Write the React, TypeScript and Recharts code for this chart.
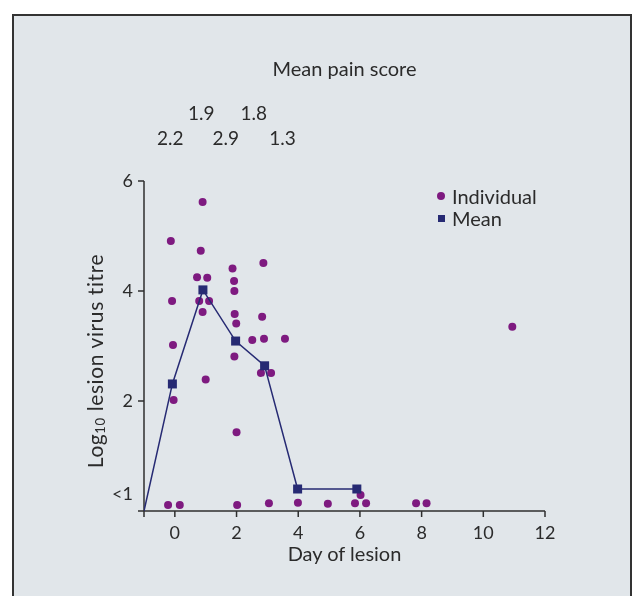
import {
  ComposedChart,
  Scatter,
  XAxis,
  YAxis,
  ReferenceDot,
} from 'recharts'

// individual lesions (day, log10 titre); values near 0 are below detection (<1)
const individualDays = [
  0.9, -0.13, 0.84, 2.87, 1.87, 0.72, 1.05, 1.92, 1.93, -0.09, 0.79, 1.11, 0.9,
  1.94, 1.99, 2.83, 2.51, 2.89, 3.57, -0.06, 1.0, 1.93, 2.79, 3.12, -0.04, 2.0,
  -0.22, 0.16, 2.02, 3.05, 3.99, 4.96, 5.84, 6.02, 6.2, 7.82, 8.16, 10.94,
]
const individualTitres = [
  5.62, 4.91, 4.73, 4.51, 4.41, 4.25, 4.24, 4.18, 4.0, 3.82, 3.82, 3.82, 3.62,
  3.58, 3.41, 3.53, 3.11, 3.13, 3.13, 3.02, 2.39, 2.81, 2.51, 2.51, 2.02, 1.43,
  0.11, 0.11, 0.11, 0.14, 0.15, 0.13, 0.14, 0.29, 0.14, 0.14, 0.14, 3.35,
]

// mean curve, starts from the axis corner
const meanDays = [-1, -0.08, 0.91, 1.97, 2.91, 3.98, 5.9]
const meanTitres = [0, 2.31, 4.02, 3.09, 2.64, 0.4, 0.4]

// mean pain score labels above the plot
const painScores = ['2.2', '1.9', '2.9', '1.8', '1.3']
const painDays = [-0.15, 0.86, 1.65, 2.56, 3.49]
const painLevels = [6.8, 7.24, 6.8, 7.24, 6.8]

const xTicks = [-1, 0, 2, 4, 6, 8, 10, 12]
const yTicks = [0, 2, 4, 6]

const individuals = individualDays.map((d, i) => ({ day: d, titre: individualTitres[i] }))
const means = meanDays.map((d, i) => ({ day: d, titre: meanTitres[i] }))

const FONT = 'Lato, "Open Sans", sans-serif'
const TEXT = '#2b2b2b'
const PURPLE = '#7e1a80'
const NAVY = '#262a73'
const AXIS = '#2e2e2e'

function YTick({ x, y, payload }: any) {
  const below = payload.value === 0
  return (
    <text
      x={x}
      y={below ? y - 17 : y}
      dy="0.35em"
      textAnchor="end"
      fill={TEXT}
      fontSize={18}
      fontFamily={FONT}
    >
      {below ? '<1' : payload.value}
    </text>
  )
}

function YLabel({ viewBox }: any) {
  const cx = viewBox.x + 10
  const cy = viewBox.y + viewBox.height / 2 + 15
  return (
    <text
      x={cx}
      y={cy}
      transform={`rotate(-90 ${cx} ${cy})`}
      textAnchor="middle"
      dominantBaseline="central"
      fill={TEXT}
      fontSize={21}
      letterSpacing={0.6}
      fontFamily={FONT}
    >
      Log
      <tspan fontSize={13} dy={6}>10</tspan>
      <tspan dy={-6}> lesion virus titre</tspan>
    </text>
  )
}

function MeanSquare({ cx, cy, payload }: any) {
  if (payload.day === -1) return <g />
  return <rect x={cx - 4.5} y={cy - 4.5} width={9} height={9} fill={NAVY} />
}

function LegendBox() {
  return (
    <div
      style={{
        position: 'absolute',
        left: 429,
        top: 177,
        fontFamily: FONT,
        fontSize: 20,
        color: TEXT,
        lineHeight: '22px',
      }}
    >
      <div style={{ display: 'flex', alignItems: 'center' }}>
        <span style={{ width: 8, height: 8, borderRadius: 4, background: PURPLE, marginRight: 7 }} />
        Individual
      </div>
      <div style={{ display: 'flex', alignItems: 'center' }}>
        <span style={{ width: 7, height: 7, background: NAVY, marginLeft: 1, marginRight: 7 }} />
        Mean
      </div>
    </div>
  )
}

export default function App() {
  return (
    <div style={{ position: 'relative', width: 619, height: 580 }}>
      {/* panel frame runs off the bottom of the page */}
      <div
        style={{
          position: 'fixed',
          left: 12,
          top: 14,
          width: 616,
          height: 600,
          border: '2px solid #333',
          background: '#e1e6ea',
        }}
      />
      <div
        style={{
          position: 'absolute',
          left: 0,
          top: 48,
          width: 673,
          textAlign: 'center',
          fontFamily: FONT,
          fontSize: 20,
          color: TEXT,
        }}
      >
        Mean pain score
      </div>
      <div style={{ position: 'absolute', left: 0, top: 0 }}>
        <ComposedChart
          width={619}
          height={580}
          margin={{ top: 173, right: 82, bottom: 37, left: 76 }}
        >
          <XAxis
            type="number"
            dataKey="day"
            domain={[-1, 12]}
            ticks={xTicks}
            tickFormatter={(v: number) => (v === -1 ? '' : String(v))}
            height={40}
            stroke={AXIS}
            strokeWidth={1.5}
            tickSize={6}
            tickMargin={9}
            tick={{ fill: TEXT, fontSize: 18, fontFamily: FONT }}
            allowDataOverflow
            label={{
              value: 'Day of lesion',
              position: 'insideBottom',
              offset: -10,
              fill: TEXT,
              fontSize: 20,
              fontFamily: FONT,
            }}
          />
          <YAxis
            type="number"
            dataKey="titre"
            domain={[0, 6]}
            ticks={yTicks}
            width={60}
            stroke={AXIS}
            strokeWidth={1.5}
            tickSize={6}
            tickMargin={5}
            tick={<YTick />}
            allowDataOverflow
            label={<YLabel />}
          />
          <Scatter
            name="Individual"
            data={individuals}
            fill={PURPLE}
            shape={(p: any) => <circle cx={p.cx} cy={p.cy} r={4} fill={PURPLE} />}
            isAnimationActive={false}
          />
          <Scatter
            name="Mean"
            data={means}
            fill={NAVY}
            line={{ stroke: NAVY, strokeWidth: 1.5 }}
            lineType="joint"
            shape={<MeanSquare />}
            isAnimationActive={false}
          />
          {painScores.map((s, i) => (
            <ReferenceDot
              key={i}
              x={painDays[i]}
              y={painLevels[i]}
              ifOverflow="visible"
              shape={(p: any) => (
                <text
                  x={p.cx}
                  y={p.cy}
                  textAnchor="middle"
                  dominantBaseline="central"
                  fill={TEXT}
                  fontSize={19}
                  fontFamily={FONT}
                >
                  {s}
                </text>
              )}
            />
          ))}
        </ComposedChart>
      </div>
      <LegendBox />
    </div>
  )
}
